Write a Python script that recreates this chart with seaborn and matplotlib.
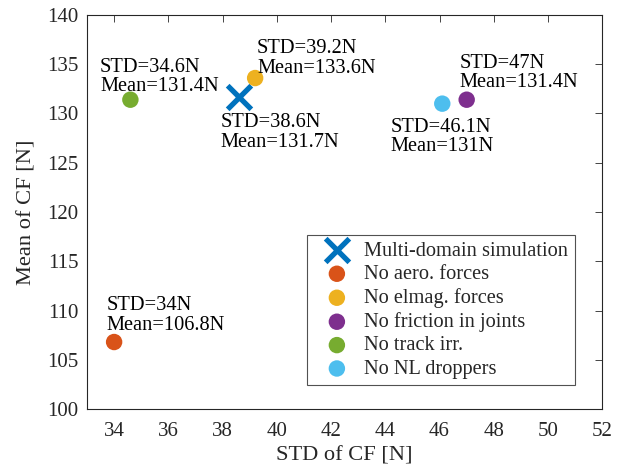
import matplotlib
matplotlib.use("Agg")
import matplotlib.pyplot as plt
import seaborn as sns
import pandas as pd

# ---- data ----
labels = ["Multi-domain simulation", "No aero. forces", "No elmag. forces",
          "No friction in joints", "No track irr.", "No NL droppers"]
std_vals = [38.6, 34.0, 39.2, 47.0, 34.6, 46.1]
mean_vals = [131.7, 106.8, 133.6, 131.4, 131.4, 131.0]
colors = ["#0072BD", "#D95319", "#EDB120", "#7E2F8E", "#77AC30", "#4DBEEE"]
annot_text = ["STD=38.6N\nMean=131.7N", "STD=34N\nMean=106.8N", "STD=39.2N\nMean=133.6N",
              "STD=47N\nMean=131.4N", "STD=34.6N\nMean=131.4N", "STD=46.1N\nMean=131N"]
annot_x = [37.91, 33.73, 39.27, 46.74, 33.48, 44.18]
annot_y = [128.1, 109.5, 135.6, 134.1, 133.7, 127.6]
x_ticks = [34, 36, 38, 40, 42, 44, 46, 48, 50, 52]
y_ticks = [100, 105, 110, 115, 120, 125, 130, 135, 140]

df = pd.DataFrame({"label": labels, "std": std_vals, "mean": mean_vals})

sns.set_style("white")
plt.rcParams["font.family"] = ["Liberation Serif", "DejaVu Serif"]
plt.rcParams["font.size"] = 14.5

fig = plt.figure(figsize=(6.24, 4.73), dpi=100)
ax = fig.add_axes([0.1394, 0.1353, 0.8258, 0.8330])

axis_col = "#262626"
for i, row in df.iterrows():
    sub = df.iloc[[i]]
    if i == 0:
        sns.scatterplot(data=sub, x="std", y="mean", ax=ax, marker="x", s=290,
                        color=colors[i], linewidth=3.8, label=row["label"], zorder=2)
    else:
        sns.scatterplot(data=sub, x="std", y="mean", ax=ax, marker="o", s=140,
                        color=colors[i], edgecolor="none", label=row["label"], zorder=2)

for tx, ty, t in zip(annot_x, annot_y, annot_text):
    ax.text(tx, ty, t, ha="left", va="center", fontsize=14.7, color="black",
            linespacing=1.05, zorder=3)

ax.set_xlim(33, 52)
ax.set_ylim(100, 140)
ax.set_xticks(x_ticks)
ax.set_yticks(y_ticks)
ax.set_xlabel("STD of CF [N]", fontsize=16.2, color=axis_col, labelpad=4)
ax.set_ylabel("Mean of CF [N]", fontsize=16.2, color=axis_col, labelpad=8)
ax.tick_params(axis="both", direction="in", length=5, width=0.6, colors=axis_col,
               top=True, right=True, labelsize=15)
ax.tick_params(axis="x", pad=9)
ax.tick_params(axis="y", pad=6)
for sp in ax.spines.values():
    sp.set_visible(True)
    sp.set_color(axis_col)
    sp.set_linewidth(0.8)

leg = ax.legend(loc="lower left", bbox_to_anchor=(0.4275, 0.061), borderaxespad=0,
                frameon=True, fancybox=False, edgecolor=axis_col, fontsize=14.7,
                labelspacing=0.2, handletextpad=0.2, borderpad=0.3,
                handlelength=2.3)
leg.get_frame().set_linewidth(0.8)

fig.savefig("out.png", dpi=100)
